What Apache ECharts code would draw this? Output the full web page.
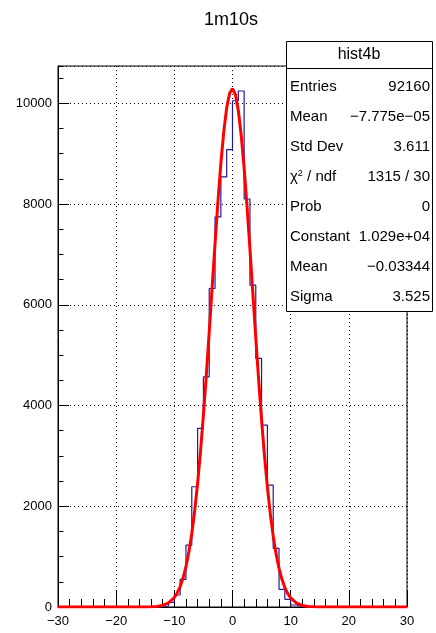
<!DOCTYPE html>
<html><head><meta charset="utf-8">
<script src="https://cdn.jsdelivr.net/npm/echarts@6/dist/echarts.min.js"></script>
<style>html,body{margin:0;padding:0;background:#fff}#c{width:436px;height:633px}</style>
</head><body><div id="c"></div>
<script>
// ---- data ----
const chartTitle = '1m10s';
const histName = 'hist4b';
const xMin = -30, xMax = 30, binWidth = 1;
const histBinLow = [-12,-11,-10,-9,-8,-7,-6,-5,-4,-3,-2,-1,0,1,2,3,4,5,6,7,8,9,10,11];
const histCounts = [20,90,238,549,1230,2387,3545,4570,6323,7744,8538,9081,10050,10244,8100,6389,4934,3611,2420,1164,351,152,40,5];
const fitX = [-30,-20,-15,-14,-13,-12,-11,-10,-9.5,-9,-8.5,-8,-7.5,-7,-6.5,-6,-5.5,-5,-4.5,-4,-3.5,-3,-2.5,-2,-1.5,-1,-0.5,0,0.5,1,1.5,2,2.5,3,3.5,4,4.5,5,5.5,6,6.5,7,7.5,8,8.5,9,9.5,10,11,12,13,14,15,20,30];
const fitY = [0,0,1,4,12,32,81,189,279,405,575,800,1091,1459,1912,2456,3091,3813,4610,5463,6344,7220,8055,8806,9436,9910,10200,10290,10173,9858,9361,8713,7949,7106,6227,5348,4501,3713,3002,2379,1848,1406,1049,767,549,386,266,179,77,30,11,4,1,0,0];
const yMax = 10740;
const xMajorStep = 10, xMinorSplit = 5;
const yMajorStep = 2000, yMinorStep = 500;
const statsLabels = ['Entries','Mean','Std Dev','{c|χ}{s|2}{c| / ndf}','Prob','Constant','Mean','Sigma'];
const statsValues = ['92160','\u22127.775e\u221205','3.611','1315 / 30','0','1.029e+04','\u22120.03344','3.525'];

// ---- build series ----
const countsByLow = {};
histBinLow.forEach((b, i) => countsByLow[b] = histCounts[i]);
const histPoints = [];
for (let x = xMin; x < xMax; x += binWidth) histPoints.push([x, countsByLow[x] || 0]);
histPoints.push([xMax, 0]);
const fitPoints = fitX.map((x, i) => [x, fitY[i]]);

const FONT = 'Liberation Sans, Arial, Helvetica, sans-serif';
const minus = v => (v < 0 ? '\u2212' + Math.abs(v) : String(v));

const chart = echarts.init(document.getElementById('c'), null, {renderer: 'canvas'});
const rowY = [87,117,147,177,207,237,267,297];
const statsGraphics = [
  {type:'rect', shape:{x:286.5,y:41.5,width:146,height:270}, style:{fill:'#fff',stroke:'#000',lineWidth:1}, z:100},
  {type:'line', shape:{x1:286.5,y1:68.5,x2:432.5,y2:68.5}, style:{stroke:'#000',lineWidth:1}, z:101},
  {type:'text', x:359, y:55, style:{text:histName, font:'16px '+FONT, fill:'#000', textAlign:'center', textVerticalAlign:'middle'}, z:101}
];
statsLabels.forEach((t, i) => {
  statsGraphics.push({type:'text', x:290, y:rowY[i], z:101, style:{text:t, font:'15px '+FONT, fill:'#000', textAlign:'left', textVerticalAlign:'middle',
    rich:{c:{fontSize:15, fontFamily:FONT}, s:{fontSize:9, fontFamily:FONT, verticalAlign:'top', padding:[0,0,7,0]}}}});
  statsGraphics.push({type:'text', x:430, y:rowY[i], z:101, style:{text:statsValues[i], font:'15px '+FONT, fill:'#000', textAlign:'right', textVerticalAlign:'middle'}});
});

chart.setOption({
  animation: false,
  backgroundColor: '#fff',
  grid: {left:58, right:29, top:66, bottom:26, show:true, borderColor:'#000', borderWidth:1, backgroundColor:'transparent', containLabel:false},
  xAxis: [{
    type:'value', min:xMin, max:xMax, interval:xMajorStep, position:'bottom',
    axisLine:{show:true, onZero:false, lineStyle:{color:'#000', width:1}},
    axisTick:{show:true, inside:true, length:16, lineStyle:{color:'#000'}},
    minorTick:{show:true, splitNumber:xMinorSplit, length:8, lineStyle:{color:'#000'}},
    splitLine:{show:true, lineStyle:{color:'#000', type:[1,3], width:1}},
    axisLabel:{formatter:minus, color:'#000', fontSize:13, fontFamily:FONT, margin:8}
  }],
  yAxis: [{
    type:'value', min:0, max:yMax, interval:yMajorStep, position:'left',
    axisLine:{show:true, onZero:false, lineStyle:{color:'#000', width:1}},
    axisTick:{show:true, inside:true, length:11, lineStyle:{color:'#000'}},
    splitLine:{show:true, lineStyle:{color:'#000', type:[1,3], width:1}},
    axisLabel:{formatter:v => (v % yMajorStep === 0 ? String(v) : ''), color:'#000', fontSize:13, fontFamily:FONT, margin:6, showMaxLabel:false}
  },{
    type:'value', min:0, max:yMax, interval:yMinorStep, position:'left', offset:0,
    axisLine:{show:false, onZero:false},
    axisTick:{show:true, inside:true, length:5.5, lineStyle:{color:'#000'}},
    splitLine:{show:false},
    axisLabel:{show:false}
  }],
  series: [{
    type:'line', step:'end', data:histPoints, symbol:'none', xAxisIndex:0, yAxisIndex:0,
    lineStyle:{color:'#1c1ca0', width:1.2}, z:3
  },{
    type:'line', data:fitPoints, symbol:'none', smooth:false, xAxisIndex:0, yAxisIndex:0,
    lineStyle:{color:'#ff0000', width:3}, z:4
  }],
  graphic: [
    {type:'text', x:231, y:20, style:{text:chartTitle, font:'18px '+FONT, fill:'#000', textAlign:'center', textVerticalAlign:'middle'}, z:101}
  ].concat(statsGraphics)
});
</script></body></html>
